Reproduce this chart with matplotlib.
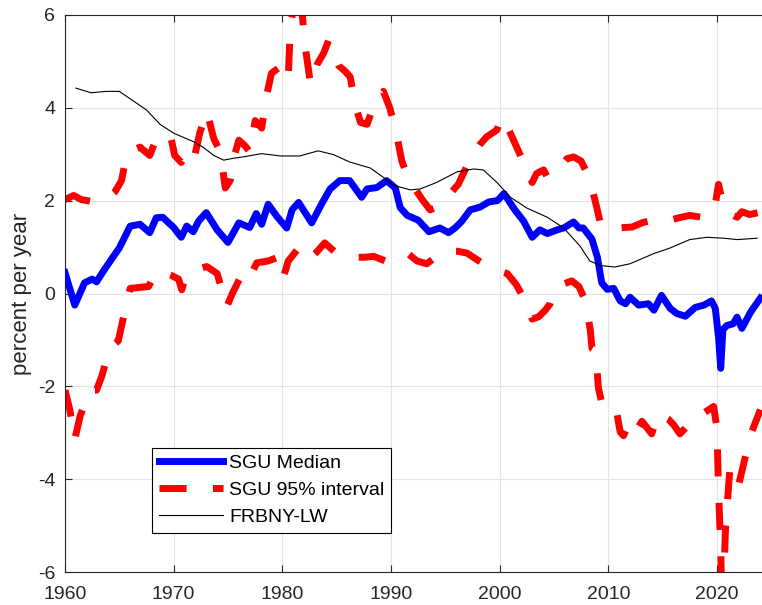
import numpy as np
import matplotlib
matplotlib.use("Agg")
import matplotlib.pyplot as plt

plt.rcParams["font.family"] = ["Liberation Sans", "DejaVu Sans"]
plt.rcParams["axes.unicode_minus"] = False

# SGU median (percent per year)
med_year = [1960.0, 1960.9, 1961.8, 1962.5, 1962.9, 1963.5, 1964.4, 1965.0, 1966.0, 1966.9,
            1967.8, 1968.4, 1969.0, 1970.0, 1970.7, 1971.2, 1971.8, 1972.3, 1973.0, 1974.0,
            1975.0, 1976.0, 1977.0, 1977.6, 1978.1, 1978.7, 1979.5, 1980.4, 1980.9, 1981.5,
            1982.7, 1983.6, 1984.4, 1985.3, 1986.2, 1987.3, 1987.8, 1988.7, 1989.6, 1990.4,
            1990.85, 1991.5, 1992.5, 1993.5, 1994.5, 1995.3, 1995.9, 1996.5, 1997.3, 1998.2,
            1999.0, 1999.8, 2000.4, 2001.4, 2002.2, 2003.0, 2003.7, 2004.4, 2005.3, 2005.9,
            2006.8, 2007.3, 2007.7, 2008.5, 2009.0, 2009.4, 2009.9, 2010.5, 2011.1, 2011.6,
            2012.0, 2012.8, 2013.7, 2014.2, 2014.9, 2015.7, 2016.3, 2017.1, 2018.0, 2018.8,
            2019.5, 2019.85, 2020.15, 2020.35, 2020.55, 2020.9, 2021.5, 2021.85, 2022.3, 2023.1,
            2024.0]
med_val = [0.45, -0.25, 0.23, 0.31, 0.25, 0.47, 0.78, 0.98, 1.45, 1.49,
           1.31, 1.63, 1.64, 1.42, 1.21, 1.45, 1.33, 1.56, 1.74, 1.37,
           1.1, 1.52, 1.42, 1.72, 1.49, 1.92, 1.66, 1.41, 1.8, 1.96,
           1.52, 1.92, 2.25, 2.43, 2.43, 2.07, 2.25, 2.28, 2.43, 2.27,
           1.85, 1.68, 1.58, 1.33, 1.41, 1.31, 1.41, 1.55, 1.8, 1.86,
           1.97, 2.0, 2.15, 1.8, 1.56, 1.21, 1.37, 1.29, 1.37, 1.41,
           1.54, 1.41, 1.41, 1.17, 0.78, 0.23, 0.09, 0.11, -0.16, -0.22,
           -0.08, -0.25, -0.22, -0.36, -0.04, -0.32, -0.43, -0.49, -0.3, -0.25,
           -0.16, -0.32, -0.94, -1.61, -0.78, -0.69, -0.65, -0.51, -0.75, -0.4,
           -0.1]

# SGU 95% interval, upper bound
up_year = [1960.0, 1960.8, 1961.5, 1962.5, 1963.3, 1964.0, 1964.6, 1965.2, 1965.7, 1966.3,
           1966.9, 1967.8, 1968.4, 1969.7, 1970.1, 1970.7, 1971.05, 1971.8, 1972.4, 1973.05,
           1973.7, 1974.3, 1974.75, 1975.2, 1975.6, 1976.0, 1976.6, 1977.0, 1977.5, 1978.1,
           1978.6, 1979.0, 1980.1, 1980.55, 1980.75, 1981.3, 1981.8, 1982.1, 1982.6, 1983.2,
           1983.8, 1984.25, 1985.2, 1985.8, 1986.25, 1986.7, 1987.2, 1987.8, 1988.7, 1989.3,
           1989.9, 1990.5, 1991.0, 1991.6, 1992.85, 1993.6, 1994.5, 1995.45, 1996.2, 1997.3,
           1998.2, 1998.8, 1999.75, 2000.2, 2000.7, 2001.3, 2002.05, 2003.0, 2003.4, 2004.05,
           2004.4, 2005.6, 2006.2, 2006.8, 2007.5, 2008.3, 2008.95, 2009.3, 2009.6, 2010.6,
           2012.2, 2013.2, 2014.2, 2015.4, 2016.5, 2017.5, 2018.6, 2019.4, 2019.85, 2020.15,
           2020.6, 2021.2, 2021.85, 2022.3, 2023.0, 2024.0]
up_val = [2.02, 2.11, 2.02, 1.98, 2.0, 2.07, 2.19, 2.43, 3.01, 3.09,
          3.15, 2.97, 3.33, 3.41, 2.97, 2.82, 2.97, 2.82, 3.45, 3.92,
          3.33, 3.05, 2.27, 2.43, 2.97, 3.3, 3.17, 3.05, 3.72, 3.56,
          4.31, 4.74, 4.93, 4.66, 5.8, 6.4, 6.1, 5.33, 4.5, 4.93,
          5.17, 5.44, 4.9, 4.78, 4.66, 4.07, 3.68, 3.64, 4.23, 4.35,
          3.99, 3.45, 2.85, 2.47, 2.03, 1.8, 1.88, 2.15, 2.35, 2.9,
          3.21, 3.37, 3.52, 3.8, 3.6, 3.29, 2.9, 2.39, 2.58, 2.66,
          2.5, 2.74, 2.9, 2.94, 2.85, 2.47, 1.84, 1.49, 1.41, 1.41,
          1.43, 1.53, 1.58, 1.56, 1.63, 1.68, 1.64, 1.68, 1.92, 2.35,
          1.88, 1.72, 1.64, 1.76, 1.7, 1.75]

# SGU 95% interval, lower bound
lo_year = [1960.0, 1960.45, 1960.9, 1961.4, 1962.3, 1962.9, 1963.4, 1964.1, 1964.9, 1965.5,
           1966.0, 1966.8, 1967.7, 1968.3, 1968.9, 1969.7, 1970.45, 1970.75, 1971.05, 1971.7,
           1972.3, 1973.05, 1974.0, 1974.9, 1975.4, 1976.4, 1977.0, 1977.65, 1978.7, 1979.6,
           1980.1, 1980.55, 1981.5, 1982.4, 1983.2, 1983.9, 1985.0, 1985.8, 1986.7, 1987.6,
           1988.4, 1989.5, 1990.5, 1991.5, 1992.4, 1993.3, 1994.2, 1995.0, 1996.1, 1997.0,
           1998.1, 1999.1, 2000.1, 2000.7, 2001.5, 2002.2, 2002.5, 2003.0, 2003.6, 2004.2,
           2004.65, 2005.0, 2005.8, 2006.65, 2007.3, 2007.9, 2008.35, 2008.5, 2008.8, 2008.9,
           2009.1, 2009.4, 2009.7, 2010.3, 2010.8, 2011.1, 2011.4, 2011.9, 2012.35, 2012.8,
           2013.1, 2014.0, 2014.6, 2015.55, 2016.0, 2016.6, 2017.5, 2018.3, 2018.8, 2019.7,
           2020.0, 2020.15, 2020.35, 2020.5, 2020.8, 2021.2, 2021.7, 2022.0, 2022.6, 2023.2,
           2024.0]
lo_val = [-2.08, -2.51, -3.14, -2.63, -2.08, -2.08, -1.77, -1.18, -1.02, -0.39,
          0.11, 0.13, 0.15, 0.45, 0.47, 0.4, 0.31, 0.08, 0.35, 0.45,
          0.53, 0.58, 0.43, -0.28, 0.0, 0.47, 0.35, 0.66, 0.7, 0.78,
          0.35, 0.7, 0.98, 0.74, 0.9, 1.09, 0.86, 0.78, 0.78, 0.78,
          0.8, 0.7, 0.75, 0.87, 0.7, 0.64, 0.8, 0.91, 0.91, 0.87,
          0.7, 0.56, 0.47, 0.43, 0.2, -0.08, -0.28, -0.55, -0.5, -0.36,
          -0.22, 0.08, 0.2, 0.27, 0.15, -0.16, -0.79, -1.18, -1.22, -1.45,
          -2.04, -2.35, -2.55, -2.6, -2.59, -2.98, -3.06, -2.8, -2.67, -2.86,
          -2.75, -3.02, -2.59, -2.71, -2.82, -3.02, -2.8, -2.59, -2.57, -2.43,
          -2.9, -4.24, -5.5, -7.0, -5.0, -3.76, -3.84, -4.12, -3.53, -2.98,
          -2.5]

# FRBNY Laubach-Williams estimate
lw_year = [1961.0, 1962.4, 1963.8, 1965.0, 1966.0, 1967.5, 1968.75, 1970.0, 1971.8, 1972.7,
           1973.7, 1974.6, 1975.5, 1976.4, 1978.1, 1979.8, 1981.6, 1983.3, 1984.7, 1986.2,
           1988.1, 1989.3, 1990.2, 1991.8, 1992.7, 1994.2, 1996.1, 1997.6, 1998.5, 1999.75,
           2001.0, 2002.5, 2004.4, 2005.9, 2007.4, 2008.3, 2009.3, 2010.6, 2012.0, 2014.2,
           2015.7, 2017.5, 2019.1, 2020.6, 2021.9, 2023.7]
lw_val = [4.42, 4.32, 4.35, 4.35, 4.19, 3.95, 3.64, 3.45, 3.27, 3.15,
          2.97, 2.87, 2.91, 2.94, 3.01, 2.96, 2.96, 3.07, 2.99, 2.83,
          2.7, 2.5, 2.33, 2.23, 2.25, 2.39, 2.62, 2.68, 2.66, 2.39,
          2.07, 1.84, 1.64, 1.41, 1.02, 0.7, 0.6, 0.57, 0.64, 0.86,
          0.98, 1.16, 1.21, 1.19, 1.16, 1.19]

dark = "#262626"

fig = plt.figure(figsize=(7.62, 6.05), dpi=100)
ax = fig.add_axes([65 / 762, 32.7 / 605, 697 / 762, 557.6 / 605])

ax.plot(med_year, med_val, color="blue", lw=5, label="SGU Median", solid_joinstyle="round", zorder=3)
ax.plot(up_year, up_val, color="red", lw=5, dashes=(3.9, 3.8), label="SGU 95% interval", zorder=2)
ax.plot(lo_year, lo_val, color="red", lw=5, dashes=(3.9, 3.8), zorder=2)
ax.plot(lw_year, lw_val, color="black", lw=0.8, label="FRBNY-LW", zorder=4)

ax.set_xlim(1960, 2024.15)
ax.set_ylim(-6, 6)
ax.set_xticks(np.arange(1960, 2021, 10))
ax.set_yticks(np.arange(-6, 7, 2))
ax.grid(True, color="#e3e3e3", lw=0.8)
ax.set_axisbelow(True)

ax.tick_params(direction="in", length=5, width=0.8, colors=dark, labelsize=14,
               top=True, right=False)
ax.tick_params(axis="x", pad=10)
ax.tick_params(axis="y", pad=7)
for side in ["left", "bottom", "top"]:
    ax.spines[side].set_color(dark)
    ax.spines[side].set_linewidth(0.8)
ax.spines["right"].set_visible(False)

ax.set_ylabel("percent per year", fontsize=16, color=dark, labelpad=4)

leg = ax.legend(loc="lower left", bbox_to_anchor=(0.125, 0.0705), fontsize=14,
                fancybox=False, framealpha=1, edgecolor="black", handlelength=3.3,
                handletextpad=0.3, labelspacing=0.48, borderpad=0.35, borderaxespad=0)
leg.get_frame().set_linewidth(0.8)

fig.savefig("out.png", dpi=100)
